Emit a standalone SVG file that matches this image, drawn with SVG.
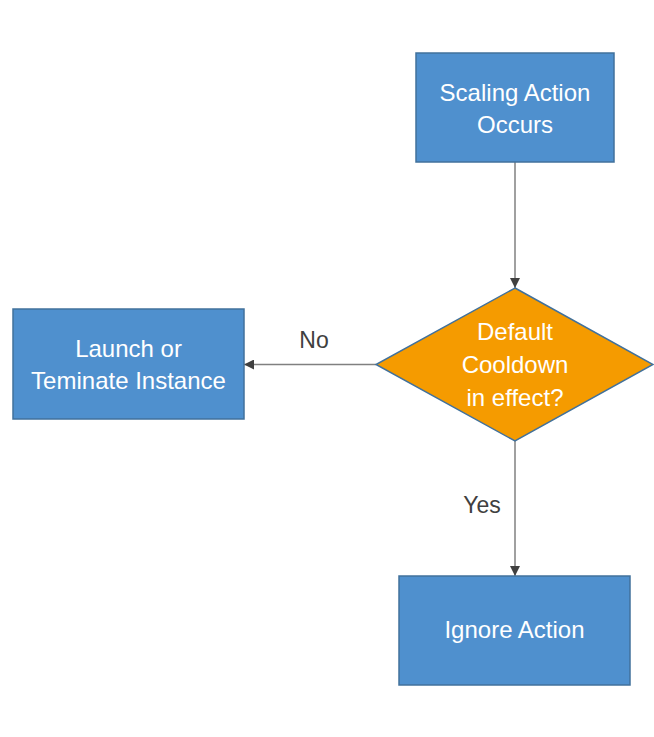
<svg xmlns="http://www.w3.org/2000/svg" width="654" height="737" viewBox="0 0 654 737">
<style>
.box{fill:#4F90CE;stroke:#41719C;stroke-width:1.5}
.dia{fill:#F59B00;stroke:#41719C;stroke-width:1.5}
.t{font-family:"Liberation Sans",Arial,sans-serif;font-size:24px;fill:#FFFFFF;text-anchor:middle}
.lbl{font-family:"Liberation Sans",Arial,sans-serif;font-size:23px;fill:#404040;text-anchor:middle}
.conn{stroke:#808080;stroke-width:1.5;fill:none;marker-end:url(#ah)}
</style>
<defs>
<marker id="ah" viewBox="0 0 10 10" refX="10" refY="5" markerWidth="10" markerHeight="10" markerUnits="userSpaceOnUse" orient="auto">
<path d="M0,0 L10,5 L0,10 Z" fill="#404040"/>
</marker>
</defs>
<rect width="654" height="737" fill="#FFFFFF"/>
<g id="connectors">
<line class="conn" x1="515" y1="162" x2="515" y2="288"/>
<line class="conn" x1="376" y1="364.5" x2="244" y2="364.5"/>
<line class="conn" x1="515" y1="441" x2="515" y2="576"/>
<text class="lbl" x="314" y="348">No</text>
<text class="lbl" x="482" y="513">Yes</text>
</g>
<g id="scaling">
<rect class="box" x="416" y="53" width="198" height="109"/>
<text class="t" x="515" y="101">Scaling Action</text>
<text class="t" x="515" y="133">Occurs</text>
</g>
<g id="cooldown">
<path class="dia" d="M515,288 L653,364.5 L515,441 L376,364.5 Z"/>
<text class="t" x="515" y="340">Default</text>
<text class="t" x="515" y="373">Cooldown</text>
<text class="t" x="515" y="406">in effect?</text>
</g>
<g id="launch">
<rect class="box" x="13" y="309" width="231" height="110"/>
<text class="t" x="128.5" y="357">Launch or</text>
<text class="t" x="128.5" y="389">Teminate Instance</text>
</g>
<g id="ignore">
<rect class="box" x="399" y="576" width="231" height="109"/>
<text class="t" x="514.5" y="638">Ignore Action</text>
</g>
</svg>
